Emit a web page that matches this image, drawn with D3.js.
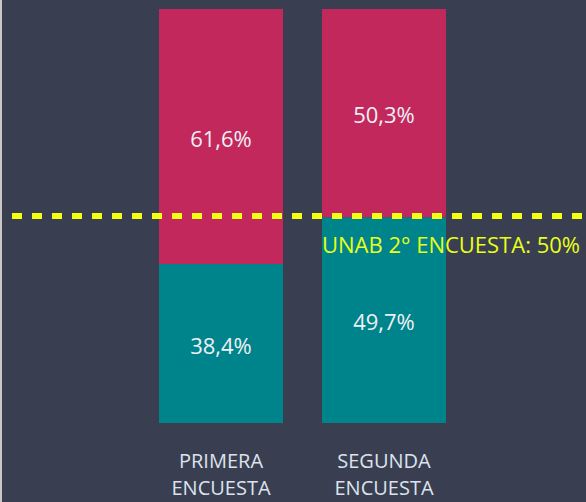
<!DOCTYPE html>
<html>
<head>
<meta charset="utf-8">
<script src="https://cdn.jsdelivr.net/npm/d3@7"></script>
<style>
  html, body { margin: 0; padding: 0; background: #393f50; }
  svg { display: block; font-family: "Open Sans", "Noto Sans", sans-serif; }
</style>
</head>
<body>
<div id="chart"></div>
<script>
const categories = ["PRIMERA ENCUESTA", "SEGUNDA ENCUESTA"];
const bajo = [38.4, 49.7];   // teal
const sobre = [61.6, 50.3];  // crimson
const refValue = 50;
const refLabel = "UNAB 2° ENCUESTA: 50%";

const W = 586, H = 502;
const margin = { top: 9, right: 0, bottom: 79, left: 2 };

const svg = d3.select("#chart")
  .append("svg")
    .attr("width", W)
    .attr("height", H);

svg.append("rect")
  .attr("width", W).attr("height", H)
  .attr("fill", "#393f50");
svg.append("rect")
  .attr("width", 2).attr("height", H)
  .attr("fill", "#c8c8c8");

const xScale = d3.scaleBand()
  .domain(categories)
  .range([159, 446])
  .paddingInner(39 / 163)
  .paddingOuter(0);

const yScale = d3.scaleLinear()
  .domain([0, 100])
  .range([H - margin.bottom, margin.top]);

const fmt = v => d3.format(".1f")(v).replace(".", ",") + "%";

const stackData = categories.map((c, i) => ({ cat: c, bajo: bajo[i], sobre: sobre[i] }));
const series = d3.stack().keys(["bajo", "sobre"])(stackData);
const color = d3.scaleOrdinal().domain(["bajo", "sobre"]).range(["#00848b", "#c3285d"]);

const layers = svg.selectAll(".layer")
  .data(series)
  .enter()
  .append("g")
  .attr("class", "layer")
  .attr("fill", d => color(d.key));

layers.selectAll("rect")
  .data(d => d)
  .enter()
  .append("rect")
  .attr("x", d => xScale(d.data.cat))
  .attr("width", xScale.bandwidth())
  .attr("y", d => yScale(d[1]))
  .attr("height", d => yScale(d[0]) - yScale(d[1]));

layers.selectAll("text")
  .data(d => d.map(p => ({ p: p, key: d.key })))
  .enter()
  .append("text")
  .attr("x", d => xScale(d.p.data.cat) + xScale.bandwidth() / 2)
  .attr("y", d => (yScale(d.p[0]) + yScale(d.p[1])) / 2 + 10)
  .attr("text-anchor", "middle")
  .attr("fill", "#eef0f4")
  .attr("font-size", 22)
  .text(d => fmt(d.p.data[d.key]));

// category labels
const xAxis = svg.append("g");
categories.forEach(c => {
  const t = xAxis.append("text")
    .attr("x", xScale(c) + xScale.bandwidth() / 2)
    .attr("y", 468)
    .attr("text-anchor", "middle")
    .attr("fill", "#dde3ee")
    .attr("font-size", 20);
  c.split(" ").forEach((w, i) => {
    t.append("tspan")
      .attr("x", xScale(c) + xScale.bandwidth() / 2)
      .attr("dy", i === 0 ? 0 : 27)
      .text(w);
  });
});

// reference line
svg.append("line")
  .attr("x1", 12).attr("x2", W)
  .attr("y1", yScale(refValue)).attr("y2", yScale(refValue))
  .attr("stroke", "#f5ff14")
  .attr("stroke-width", 6)
  .attr("stroke-dasharray", "10,10");

svg.append("text")
  .attr("x", xScale(categories[1]))
  .attr("y", yScale(refValue) + 37)
  .attr("fill", "#e8ff1a")
  .attr("font-size", 22)
  .text(refLabel);
</script>
</body>
</html>
